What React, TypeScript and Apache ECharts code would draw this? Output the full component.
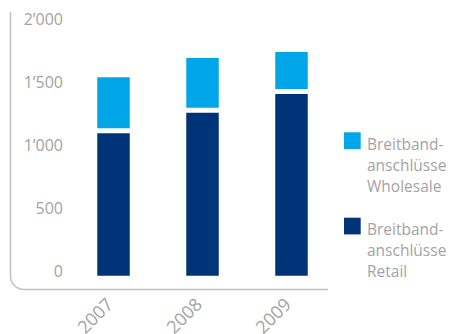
import React, { useEffect, useRef } from "react";
import * as echarts from "echarts";

const years = ["2007", "2008", "2009"];
const retail = [1171, 1334, 1483];
const wholesale = [444, 434, 333];
const seriesNames = ["Breitband-\nanschlüsse\nWholesale", "Breitband-\nanschlüsse\nRetail"];
const yTicks = [0, 500, 1000, 1500, 2000];

const FONT = "'Open Sans', 'Noto Sans', sans-serif";
const TEXT = "#a3a3a3";
const DARK = "#003478";
const LIGHT = "#00a6e8";
const AXIS = "#c0c0c6";

echarts.graphic.registerShape(
  "axisL",
  echarts.graphic.extendPath(
    "M10.5,12 L10.5,276 C10.5,283.45 16.55,289.5 24,289.5 L328,289.5",
    {}
  )
);

function fmt(v: number): string {
  const s = String(Math.round(v));
  return s.replace(/\B(?=(\d{3})+(?!\d))/g, "\u2019");
}

export default function App() {
  const ref = useRef<HTMLDivElement>(null);
  useEffect(() => {
    document.body.style.margin = "0";
    if (!ref.current) return;
    const chart = echarts.init(ref.current, undefined, { renderer: "svg" });
    chart.setOption({
      animation: false,
      grid: {
        left: 69,
        right: 121,
        top: 26.25,
        bottom: 55.75,
        containLabel: false,
        outerBoundsMode: "none",
      },
      xAxis: {
        type: "category",
        data: years,
        offset: 11.25,
        axisLine: { show: false },
        axisTick: { show: false },
        axisLabel: {
          rotate: 45,
          margin: 7,
          padding: [0, 6, 0, 0],
          color: TEXT,
          fontFamily: FONT,
          fontSize: 18,
        },
      },
      yAxis: {
        type: "value",
        min: yTicks[0],
        max: yTicks[yTicks.length - 1],
        interval: 500,
        axisLine: { show: false },
        axisTick: { show: false },
        splitLine: { show: false },
        axisLabel: {
          margin: 6,
          color: TEXT,
          fontFamily: FONT,
          fontSize: 16,
          verticalAlign: "bottom",
          lineHeight: 14,
          formatter: (v: number) => fmt(v),
        },
      },
      series: [
        {
          name: seriesNames[1],
          type: "bar",
          stack: "total",
          data: retail,
          barWidth: 37.5,
          itemStyle: { color: DARK, borderColor: "#fff", borderWidth: 2.5 },
        },
        {
          name: seriesNames[0],
          type: "bar",
          stack: "total",
          data: wholesale,
          barWidth: 37.5,
          itemStyle: { color: LIGHT, borderColor: "#fff", borderWidth: 2.5 },
        },
      ],
      graphic: [
        {
          type: "axisL",
          style: { stroke: AXIS, fill: null, lineWidth: 1.5 },
          silent: true,
        },
        {
          type: "rect",
          shape: { x: 344, y: 132.3, width: 16.7, height: 16.7 },
          style: { fill: LIGHT },
        },
        {
          type: "text",
          x: 367,
          y: 133,
          style: {
            text: seriesNames[0],
            font: `15.5px ${FONT}`,
            fill: TEXT,
            lineHeight: 21,
            verticalAlign: "top",
          },
        },
        {
          type: "rect",
          shape: { x: 344, y: 217.7, width: 16.7, height: 16.7 },
          style: { fill: DARK },
        },
        {
          type: "text",
          x: 367,
          y: 218.4,
          style: {
            text: seriesNames[1],
            font: `15.5px ${FONT}`,
            fill: TEXT,
            lineHeight: 21,
            verticalAlign: "top",
          },
        },
      ],
    });
    return () => chart.dispose();
  }, []);
  return <div ref={ref} style={{ width: 457, height: 334 }} />;
}
